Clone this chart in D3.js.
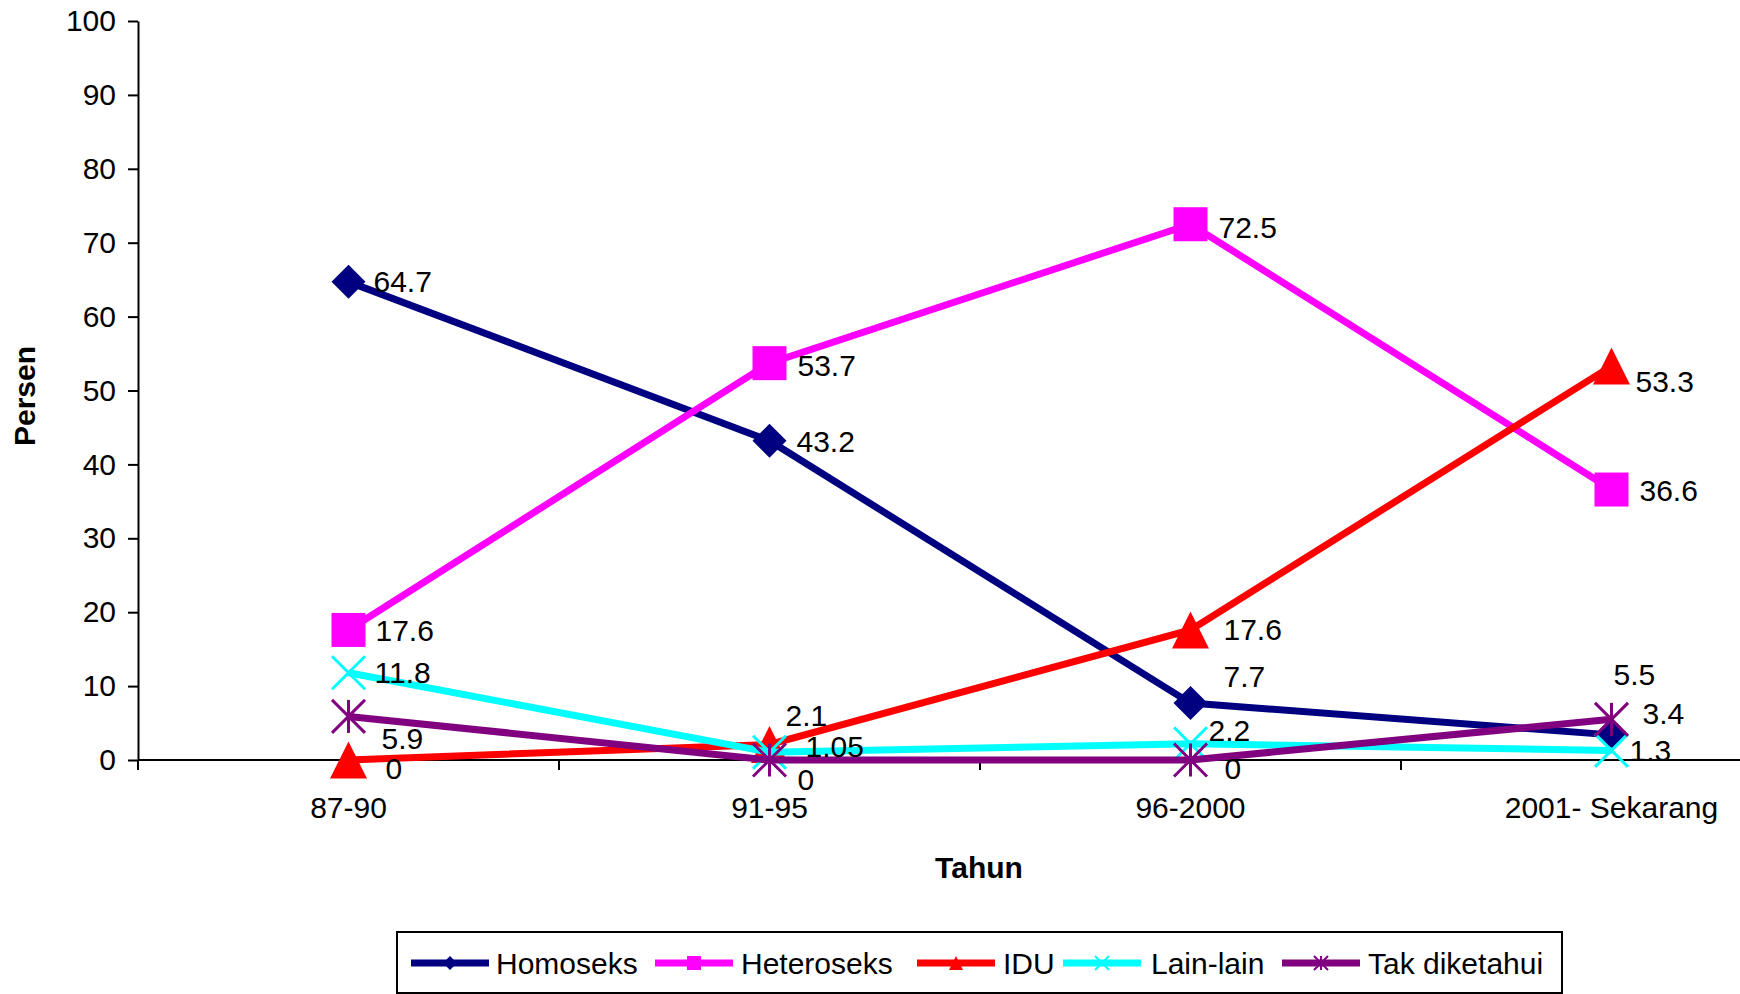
<!DOCTYPE html>
<html>
<head>
<meta charset="utf-8">
<script src="https://cdn.jsdelivr.net/npm/d3@7"></script>
<style>
  html, body { margin: 0; padding: 0; background: #fff; overflow: hidden; }
  svg { display: block; font-family: "Liberation Sans", Arial, sans-serif; }
</style>
</head>
<body>
<svg id="chart" width="1740" height="994"></svg>
<script>
// Periods on the x axis
const categories = ["87-90", "91-95", "96-2000", "2001- Sekarang"];

// Percentage per transmission route
const homoseks     = [64.7, 43.2, 7.7, 3.4];
const heteroseks   = [17.6, 53.7, 72.5, 36.6];
const idu          = [0, 2.1, 17.6, 53.3];
const lainLain     = [11.8, 1.05, 2.2, 1.3];
const takDiketahui = [5.9, 0, 0, 5.5];

const yTicks = [0, 10, 20, 30, 40, 50, 60, 70, 80, 90, 100];

const seriesNames = ["Homoseks", "Heteroseks", "IDU", "Lain-lain", "Tak diketahui"];
const seriesValues = [homoseks, heteroseks, idu, lainLain, takDiketahui];

// Presentation per series
const styles = [
  { color: "#000080", marker: "diamond" },
  { color: "#FF00FF", marker: "square" },
  { color: "#FF0000", marker: "triangle" },
  { color: "#00FFFF", marker: "cross" },
  { color: "#800080", marker: "star" }
];

// Value-label nudges (px) so overlapping labels stay readable
const labelNudge = [
  [[25, 0], [27, 1], [33, -27], [31, -21]],
  [[27, 1], [28, 2], [28, 3], [28, 1]],
  [[37, 8], [16, -29], [33, 0], [24, 15]],
  [[26, 0], [36, -6], [18, -13], [18, 0]],
  [[33, 22], [28, 19], [34, 8], [2, -45]]
];

const svg = d3.select("#chart");
const FONT = 30;

const x = d3.scaleBand().domain(categories).range([138, 1822]).paddingInner(0).paddingOuter(0);
const y = d3.scaleLinear().domain([0, 100]).range([760, 21]);
const cx = c => x(c) + x.bandwidth() / 2;

// Y axis
const yAxis = svg.append("g").attr("transform", "translate(138,0)")
  .call(d3.axisLeft(y).tickValues(yTicks).tickSize(10).tickPadding(12).tickSizeOuter(0));
yAxis.select(".domain").attr("stroke", "#000").attr("stroke-width", 2);
yAxis.selectAll(".tick line").attr("stroke", "#000").attr("stroke-width", 2);
yAxis.selectAll(".tick text").attr("font-size", FONT).attr("fill", "#000")
  .attr("font-family", "Liberation Sans, Arial, sans-serif");

// X axis line and ticks between categories
const xAxisG = svg.append("g");
xAxisG.append("line").attr("x1", 138).attr("x2", 1822).attr("y1", y(0)).attr("y2", y(0))
  .attr("stroke", "#000").attr("stroke-width", 2);
const edges = categories.map(c => x(c)).concat([x(categories[categories.length - 1]) + x.bandwidth()]);
xAxisG.selectAll("line.tk").data(edges).join("line").attr("class", "tk")
  .attr("x1", d => d).attr("x2", d => d).attr("y1", y(0)).attr("y2", y(0) + 10)
  .attr("stroke", "#000").attr("stroke-width", 2);
xAxisG.selectAll("text").data(categories).join("text")
  .attr("x", d => cx(d)).attr("y", 807).attr("dy", "0.35em")
  .attr("text-anchor", "middle").attr("font-size", FONT).text(d => d);

// Axis titles
svg.append("text").attr("x", 979).attr("y", 867).attr("dy", "0.35em")
  .attr("text-anchor", "middle").attr("font-size", FONT).attr("font-weight", "bold").text("Tahun");
svg.append("text").attr("transform", "translate(24,396) rotate(-90)").attr("dy", "0.35em")
  .attr("text-anchor", "middle").attr("font-size", FONT).attr("font-weight", "bold").text("Persen");

// Marker drawing
function drawMarker(g, type, color, s) {
  const h = s / 2;
  if (type === "diamond") {
    g.append("path").attr("d", `M0,${-h}L${h},0L0,${h}L${-h},0Z`).attr("fill", color);
  } else if (type === "square") {
    g.append("rect").attr("x", -h).attr("y", -h).attr("width", s).attr("height", s).attr("fill", color);
  } else if (type === "triangle") {
    g.append("path").attr("d", `M0,${-h}L${h},${h}L${-h},${h}Z`).attr("fill", color);
  } else if (type === "cross" || type === "star") {
    const sw = Math.max(2, s / 11);
    g.append("path").attr("d", `M${-h},${-h}L${h},${h}M${h},${-h}L${-h},${h}`)
      .attr("stroke", color).attr("stroke-width", sw).attr("fill", "none");
    if (type === "star") {
      g.append("path").attr("d", `M0,${-h}L0,${h}`)
        .attr("stroke", color).attr("stroke-width", sw).attr("fill", "none");
    }
  }
}

const markerSize = [34, 34, 37, 33, 33];
const line = d3.line().x((d, i) => cx(categories[i])).y(d => y(d));

const plot = svg.append("g");
seriesValues.forEach((vals, si) => {
  const st = styles[si];
  const g = plot.append("g");
  g.append("path").datum(vals).attr("d", line)
    .attr("fill", "none").attr("stroke", st.color).attr("stroke-width", 7)
    .attr("stroke-linejoin", "miter");
  vals.forEach((v, i) => {
    const mg = g.append("g").attr("transform", `translate(${cx(categories[i])},${y(v)})`);
    drawMarker(mg, st.marker, st.color, markerSize[si]);
  });
});

// Value labels
seriesValues.forEach((vals, si) => {
  plot.append("g").selectAll("text").data(vals).join("text")
    .attr("x", (d, i) => cx(categories[i]) + labelNudge[si][i][0])
    .attr("y", (d, i) => y(d) + labelNudge[si][i][1])
    .attr("dy", "0.35em").attr("font-size", FONT).attr("fill", "#000")
    .text(d => String(d));
});

// Legend
const legend = svg.append("g");
legend.append("rect").attr("x", 397).attr("y", 932).attr("width", 1165).attr("height", 61)
  .attr("fill", "#fff").attr("stroke", "#000").attr("stroke-width", 2);
const legLineX = [411, 655, 917, 1063, 1282];
const legTextX = [496, 741, 1003, 1151, 1368];
const legY = 963;
seriesNames.forEach((name, si) => {
  const st = styles[si];
  legend.append("line").attr("x1", legLineX[si]).attr("x2", legLineX[si] + 78)
    .attr("y1", legY).attr("y2", legY).attr("stroke", st.color).attr("stroke-width", 7);
  const mg = legend.append("g").attr("transform", `translate(${legLineX[si] + 39},${legY})`);
  drawMarker(mg, st.marker, st.color, 14);
  legend.append("text").attr("x", legTextX[si]).attr("y", legY).attr("dy", "0.35em")
    .attr("font-size", FONT).text(name);
});
</script>
</body>
</html>
